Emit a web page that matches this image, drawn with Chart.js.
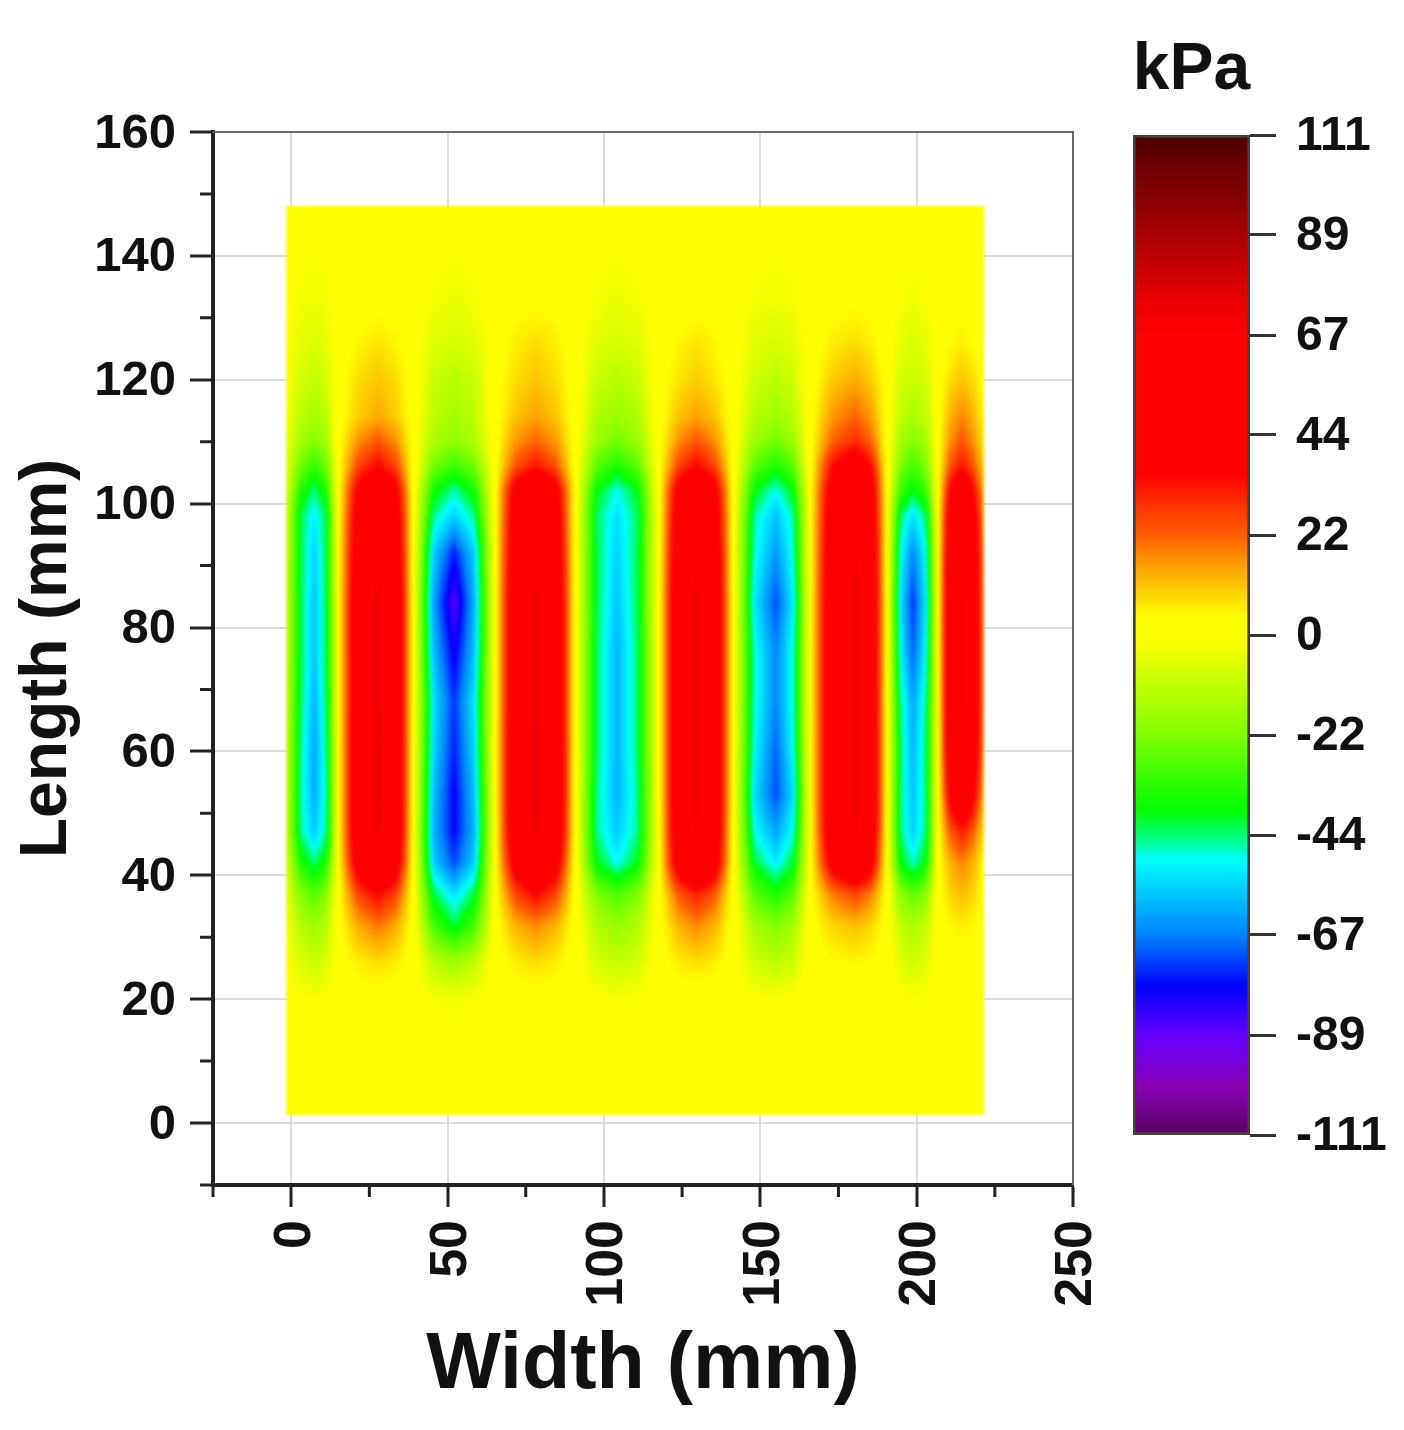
<!DOCTYPE html>
<html>
<head>
<meta charset="utf-8">
<script src="https://cdn.jsdelivr.net/npm/chart.js@4/dist/chart.umd.min.js"></script>
<style>
  body { margin: 0; background: #fff; }
  #map { position: absolute; left: 0; top: 0; }
  #bar { position: absolute; left: 1100px; top: 0; }
</style>
</head>
<body>
<canvas id="map" width="1404" height="1430"></canvas>
<canvas id="bar" width="304" height="1430"></canvas>
<script>
const xMajor = [0, 50, 100, 150, 200, 250];
const xMinor = [-25, 25, 75, 125, 175, 225];
const yMajor = [0, 20, 40, 60, 80, 100, 120, 140, 160];
const yMinor = [-10, 10, 30, 50, 70, 90, 110, 130, 150];
const barTicks = [111, 88.8, 66.6, 44.4, 22.2, 0, -22.2, -44.4, -66.6, -88.8, -111];

// colour bar, value -> colour
const colorVals = [111, 105, 89, 75, 66, 36, 22, 16, 4, -1, -22, -39, -45, -50, -67, -78, -89, -100, -111];
const colorHex = ["#4a0000", "#6a0000", "#a80000", "#e80000", "#ff0000", "#ff0000", "#ff6000", "#ff9900", "#ffff00", "#ffff00",
  "#80ff00", "#00ff00", "#00ff80", "#00ffff", "#0080ff", "#0000ff", "#6800ff", "#8800b8", "#5a0060"];

// sample positions in mm
const widths = [-1.6, 2.9, 7.4, 11.2, 15, 21.4, 27.8, 33.6, 39, 45.4, 52.1, 58.5, 65.2, 71.6, 78.3, 84.7, 90.8, 97.5, 104.2, 110.9,
  117.6, 123.7, 129.8, 135.5, 141.3, 148, 155, 160.5, 165.9, 173, 180.3, 185.4, 190.5, 194.7, 198.8, 203, 206.8, 210.7, 214.5, 218, 221.5];
const lengths = [1.3, 12, 20, 26, 32, 37, 42, 47, 53, 60, 68, 76, 84, 92, 98, 102, 106, 110, 114, 120, 126, 132, 140, 148];

// kPa, one row per length, one value per width
const pressure = [
  [0,0,0,0,0, 0,0,0,0, 0,0,0,0, 0,0,0,0, 0,0,0,0, 0,0,0,0, 0,0,0,0, 0,0,0,0, 0,0,0,0, 0,0,0,0],
  [0,0,-1,0,0, 0,0,0,0, 0,-1,0,0, 1,1,1,0, 0,-1,0,0, 0,1,0,0, 0,-1,0,0, 0,1,0,0, 0,-1,0,0, 0,1,0,0],
  [0,-1,-2,-1,1, 2,2,2,1, -2,-3,-2,1, 2,2,2,1, -1,-2,-1,1, 1,1,1,1, -1,-2,-1,1, 1,1,1,1, -1,-2,-1,1, 0,1,1,1],
  [-1,-7,-10,-7,2, 6,8,6,2, -12,-17,-12,2, 6,8,6,2, -8,-11,-8,2, 6,8,6,2, -9,-12,-9,2, 4,5,4,2, -6,-9,-6,2, 2,2,2,1],
  [-2,-13,-18,-13,2, 14,20,14,2, -30,-42,-30,2, 13,18,13,2, -14,-19,-14,2, 13,18,13,2, -16,-22,-16,2, 9,12,9,2, -11,-15,-11,2, 5,6,5,2],
  [-4,-21,-28,-21,2, 26,36,26,2, -42,-54,-42,2, 26,36,26,2, -22,-29,-22,2, 23,32,23,2, -27,-36,-27,2, 19,26,19,2, -20,-27,-20,2, 9,12,9,3],
  [-7,-35,-44,-35,2, 45,62,45,2, -56,-72,-56,2, 43,60,43,2, -39,-50,-39,2, 45,62,45,2, -41,-52,-41,2, 42,58,42,2, -38,-48,-38,2, 13,18,13,4],
  [-9,-45,-57,-45,2, 52,72,52,2, -60,-78,-60,2, 52,72,52,2, -45,-57,-45,2, 50,70,50,2, -49,-62,-49,2, 50,70,50,2, -44,-56,-44,2, 23,32,23,7],
  [-9,-46,-61,-46,2, 53,74,53,2, -58,-79,-58,2, 54,75,54,2, -45,-60,-45,2, 52,72,52,2, -54,-72,-54,2, 52,72,52,2, -44,-58,-44,2, 40,55,40,12],
  [-9,-45,-62,-45,2, 53,74,53,2, -55,-76,-55,2, 54,75,54,2, -43,-60,-43,2, 52,72,52,2, -50,-70,-50,2, 52,72,52,2, -43,-60,-43,2, 49,68,49,16],
  [-9,-43,-60,-43,2, 52,72,52,2, -53,-74,-53,2, 52,72,52,2, -43,-60,-43,2, 52,72,52,2, -48,-66,-48,2, 52,72,52,2, -45,-62,-45,2, 52,72,52,18],
  [-9,-42,-58,-42,2, 52,72,52,2, -58,-80,-58,2, 52,72,52,2, -43,-60,-43,2, 52,72,52,2, -48,-66,-48,2, 52,72,52,2, -50,-70,-50,2, 52,72,52,18],
  [-9,-42,-58,-42,2, 52,72,52,2, -62,-88,-60,2, 52,72,52,2, -42,-58,-42,2, 52,72,52,2, -52,-72,-52,2, 52,72,52,2, -53,-74,-53,2, 52,72,52,18],
  [-8,-42,-56,-42,2, 49,68,49,2, -56,-76,-56,2, 49,68,49,2, -42,-56,-42,2, 49,68,49,2, -48,-64,-48,2, 50,70,50,2, -49,-66,-49,2, 49,68,49,17],
  [-8,-42,-52,-42,2, 45,62,45,2, -45,-56,-45,2, 46,64,46,2, -43,-54,-43,2, 46,64,46,2, -46,-58,-46,2, 48,66,48,2, -43,-54,-43,2, 45,62,45,15],
  [-7,-35,-45,-35,2, 40,55,40,2, -37,-47,-37,2, 42,58,42,2, -39,-50,-39,2, 42,58,42,2, -39,-50,-39,2, 45,62,45,2, -31,-40,-31,2, 37,52,37,12],
  [-5,-24,-33,-24,2, 26,36,26,2, -24,-32,-24,2, 24,34,24,2, -27,-36,-27,2, 26,36,26,2, -27,-36,-27,2, 35,48,35,2, -22,-30,-22,2, 24,34,24,9],
  [-3,-16,-22,-16,2, 17,24,17,2, -15,-20,-15,2, 16,22,16,2, -18,-24,-18,2, 17,24,17,2, -18,-24,-18,2, 22,30,22,2, -16,-22,-16,2, 17,24,17,7],
  [-2,-12,-16,-12,2, 10,14,10,2, -12,-16,-12,2, 11,15,11,2, -14,-18,-14,2, 11,15,11,2, -13,-17,-13,2, 16,22,16,2, -11,-15,-11,2, 13,18,13,5],
  [-1,-8,-11,-8,2, 8,11,8,2, -10,-13,-10,2, 8,11,8,2, -10,-13,-10,2, 7,10,7,2, -9,-12,-9,2, 10,14,10,2, -8,-10,-8,2, 8,11,8,3],
  [-1,-5,-7,-5,1, 5,7,5,1, -6,-8,-6,1, 6,8,6,1, -6,-8,-6,1, 5,7,5,1, -6,-8,-6,1, 6,8,6,1, -5,-7,-5,1, 4,6,4,2],
  [0,-3,-4,-3,1, 2,3,2,1, -3,-5,-3,1, 3,4,3,1, -3,-5,-3,1, 2,3,2,1, -3,-4,-3,1, 3,4,3,1, -2,-4,-2,1, 2,3,2,1],
  [0,-1,-2,-1,0, 1,1,1,0, -1,-2,-1,0, 1,1,1,0, -1,-2,-1,0, 1,1,1,0, -1,-2,-1,0, 1,1,1,0, -1,-1,-1,0, 1,1,1,0],
  [0,0,0,0,0, 0,0,0,0, 0,0,0,0, 0,0,0,0, 0,0,0,0, 0,0,0,0, 0,0,0,0, 0,0,0,0, 0,0,0,0, 0,0,0,0],
];

const fontName = "'Liberation Sans', Arial, sans-serif";
const colorRgb = colorHex.map((h) => [1, 3, 5].map((i) => parseInt(h.slice(i, i + 2), 16)));

function colorFor(v) {
  let i = 0;
  while (i < colorVals.length - 2 && v < colorVals[i + 1]) i++;
  const t = Math.min(1, Math.max(0, (colorVals[i] - v) / (colorVals[i] - colorVals[i + 1])));
  return colorRgb[i].map((c, k) => c + (colorRgb[i + 1][k] - c) * t);
}

function findCell(list, v) {
  let i = 0;
  while (i < list.length - 2 && v > list[i + 1]) i++;
  return i;
}

// filled map, goes over the grid lines like the original
const heatPlugin = {
  id: "heat",
  beforeDatasetsDraw(chart) {
    const { x, y } = chart.scales;
    const left = Math.round(x.getPixelForValue(widths[0]));
    const right = Math.round(x.getPixelForValue(widths[widths.length - 1]));
    const top = Math.round(y.getPixelForValue(lengths[lengths.length - 1]));
    const bottom = Math.round(y.getPixelForValue(lengths[0]));
    const w = right - left;
    const h = bottom - top;
    const off = document.createElement("canvas");
    off.width = w;
    off.height = h;
    const offCtx = off.getContext("2d");
    const img = offCtx.createImageData(w, h);
    for (let py = 0; py < h; py++) {
      const mmY = y.getValueForPixel(top + py + 0.5);
      const j = findCell(lengths, mmY);
      const ty = (mmY - lengths[j]) / (lengths[j + 1] - lengths[j]);
      for (let px = 0; px < w; px++) {
        const mmX = x.getValueForPixel(left + px + 0.5);
        const i = findCell(widths, mmX);
        const tx = (mmX - widths[i]) / (widths[i + 1] - widths[i]);
        const low = pressure[j][i] + (pressure[j][i + 1] - pressure[j][i]) * tx;
        const high = pressure[j + 1][i] + (pressure[j + 1][i + 1] - pressure[j + 1][i]) * tx;
        const rgb = colorFor(low + (high - low) * ty);
        const k = (py * w + px) * 4;
        img.data[k] = rgb[0];
        img.data[k + 1] = rgb[1];
        img.data[k + 2] = rgb[2];
        img.data[k + 3] = 255;
      }
    }
    offCtx.putImageData(img, 0, 0);
    const ctx = chart.ctx;
    ctx.save();
    ctx.filter = "blur(1.5px)";
    ctx.drawImage(off, left, top);
    ctx.restore();
  },
  afterDatasetsDraw(chart) {
    const { x, y } = chart.scales;
    const area = chart.chartArea;
    const ctx = chart.ctx;
    ctx.save();
    // thin frame on top and right
    ctx.strokeStyle = "#666";
    ctx.lineWidth = 2;
    ctx.beginPath();
    ctx.moveTo(area.left, area.top);
    ctx.lineTo(area.right, area.top);
    ctx.lineTo(area.right, area.bottom);
    ctx.stroke();
    // short ticks, Chart.js only has one tick length per axis
    ctx.strokeStyle = "#222";
    ctx.lineWidth = 3;
    ctx.beginPath();
    xMinor.forEach((v) => {
      const p = x.getPixelForValue(v);
      ctx.moveTo(p, area.bottom);
      ctx.lineTo(p, area.bottom + 12);
    });
    yMinor.forEach((v) => {
      const p = y.getPixelForValue(v);
      ctx.moveTo(area.left, p);
      ctx.lineTo(area.left - 13, p);
    });
    ctx.stroke();
    ctx.restore();
  },
};

const mapPoints = [];
lengths.forEach((len, j) => {
  widths.forEach((wid, i) => mapPoints.push({ x: wid, y: len, v: pressure[j][i] }));
});

const mapChart = new Chart(document.getElementById("map"), {
  type: "scatter",
  data: {
    datasets: [{ label: "Pressure (kPa)", data: mapPoints, pointRadius: 0 }],
  },
  plugins: [heatPlugin],
  options: {
    responsive: false,
    animation: false,
    layout: { padding: { left: 0, top: 132, right: 331, bottom: 0 } },
    plugins: { legend: { display: false }, tooltip: { enabled: false } },
    scales: {
      x: {
        type: "linear",
        min: -25,
        max: 250,
        afterBuildTicks: (scale) => { scale.ticks = xMajor.map((v) => ({ value: v })); },
        afterFit: (scale) => { scale.height = 245; },
        grid: { color: "#dcdcdc", lineWidth: 2, tickColor: "#222", tickWidth: 3, tickLength: 22 },
        border: { color: "#222", width: 4 },
        ticks: {
          autoSkip: false,
          minRotation: 90,
          maxRotation: 90,
          padding: 13,
          labelOffset: 4,
          color: "#111",
          font: { family: fontName, size: 52, weight: "bold" },
        },
        title: {
          display: true,
          text: "Width (mm)",
          color: "#111",
          padding: { top: 0, bottom: 16 },
          font: { family: fontName, size: 79, weight: "bold" },
        },
      },
      y: {
        type: "linear",
        min: -10,
        max: 160,
        afterBuildTicks: (scale) => { scale.ticks = yMajor.map((v) => ({ value: v })); },
        afterFit: (scale) => { scale.width = 213; },
        grid: { color: "#dcdcdc", lineWidth: 2, tickColor: "#222", tickWidth: 3, tickLength: 23 },
        border: { color: "#222", width: 4 },
        ticks: {
          autoSkip: false,
          padding: 14,
          labelOffset: 2,
          color: "#111",
          font: { family: fontName, size: 49, weight: "bold" },
        },
        title: {
          display: true,
          text: "Length (mm)",
          color: "#111",
          padding: { top: 8, bottom: 0 },
          font: { family: fontName, size: 66, weight: "bold" },
        },
      },
    },
  },
});

function barGradient(context) {
  const chart = context.chart;
  const yScale = chart.scales.y;
  if (!chart.chartArea || !yScale) return "#ff0";
  const lo = yScale.getPixelForValue(-111);
  const hi = yScale.getPixelForValue(111);
  const grad = chart.ctx.createLinearGradient(0, lo, 0, hi);
  colorVals.forEach((v, i) => {
    grad.addColorStop((v + 111) / 222, colorHex[i]);
  });
  return grad;
}

const barChart = new Chart(document.getElementById("bar"), {
  type: "bar",
  data: {
    labels: ["kPa"],
    datasets: [
      {
        data: [[-111, 111]],
        backgroundColor: barGradient,
        borderColor: "rgba(45, 25, 25, 0.85)",
        borderWidth: 3,
        borderSkipped: false,
        barPercentage: 1,
        categoryPercentage: 1,
      },
    ],
  },
  options: {
    responsive: false,
    animation: false,
    layout: { padding: { left: 33, top: 0, right: 0, bottom: 295 } },
    plugins: { legend: { display: false }, tooltip: { enabled: false } },
    scales: {
      x: {
        position: "top",
        afterFit: (scale) => {
          scale.height = 135;
          // label is as wide as the bar, no extra side room
          scale.paddingLeft = 0;
          scale.paddingRight = 0;
        },
        grid: { display: false, drawTicks: false },
        border: { display: false },
        ticks: {
          padding: 25,
          color: "#111",
          font: { family: fontName, size: 66, weight: "bold" },
        },
      },
      y: {
        position: "right",
        min: -111,
        max: 111,
        afterBuildTicks: (scale) => { scale.ticks = barTicks.map((v) => ({ value: v })); },
        afterFit: (scale) => { scale.width = 154; },
        grid: { display: true, drawOnChartArea: false, tickColor: "#333", tickWidth: 3, tickLength: 26 },
        border: { display: false },
        ticks: {
          autoSkip: false,
          padding: 20,
          labelOffset: 2,
          color: "#111",
          font: { family: fontName, size: 48, weight: "bold" },
          callback: (value) => Math.round(value),
        },
      },
    },
  },
});
</script>
</body>
</html>
